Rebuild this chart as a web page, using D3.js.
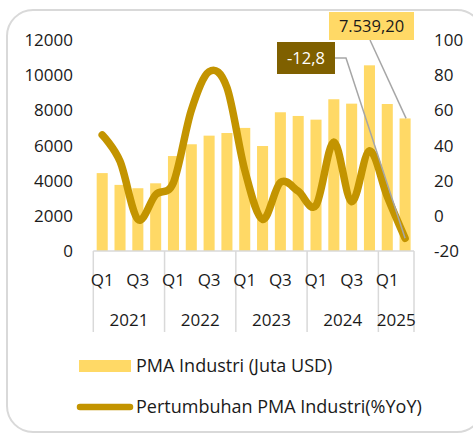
<!DOCTYPE html>
<html>
<head>
<meta charset="utf-8">
<script src="https://cdn.jsdelivr.net/npm/d3@7"></script>
<style>
	body { margin: 0; background: #fff; }
	svg { display: block; font-family: "Open Sans", sans-serif; }
</style>
</head>
<body>
<svg width="473" height="434"></svg>
<script>
(function() {
	"use strict"

	var years = ["2021", "2022", "2023", "2024", "2025"],
		quarters = ["Q1", "Q2", "Q3", "Q4", "Q1", "Q2", "Q3", "Q4", "Q1", "Q2", "Q3", "Q4", "Q1", "Q2", "Q3", "Q4", "Q1", "Q2"],
		quarterYears = [0, 0, 0, 0, 1, 1, 1, 1, 2, 2, 2, 2, 3, 3, 3, 3, 4, 4],
		pmaValues = [4430, 3760, 3570, 3850, 5400, 6070, 6560, 6710, 7000, 5970, 7890, 7680, 7470, 8630, 8380, 10560, 8360, 7539.2],
		growthValues = [46, 31, -2, 12, 19, 60, 82, 73, 26, -2, 19, 14, 6, 42, 8, 37, 11, -12.8],
		leftTicks = [0, 2000, 4000, 6000, 8000, 10000, 12000],
		rightTicks = [-20, 0, 20, 40, 60, 80, 100];

	var barColor = "#ffd966",
		lineColor = "#c39400",
		gridColor = "#d9d9d9",
		textColor = "#1a1a1a",
		x0 = 93.3, x1 = 414, yTop = 40, yBottom = 251;

	var svg = d3.select("svg");

	// frame
	svg.append("rect")
		.attr("x", 7).attr("y", 10)
		.attr("width", 476).attr("height", 422)
		.attr("rx", 26)
		.style("fill", "none")
		.style("stroke", gridColor)
		.style("stroke-width", 2);

	var x = d3.scaleBand().domain(d3.range(quarters.length)).range([x0, x1]).paddingInner(0.38).paddingOuter(0.19),
		yLeft = d3.scaleLinear().domain([0, 12000]).range([yBottom, yTop]),
		yRight = d3.scaleLinear().domain([-20, 100]).range([yBottom, yTop]),
		step = (x1 - x0) / quarters.length;

	// bars
	svg.append("g")
		.selectAll("rect")
		.data(pmaValues)
		.enter()
		.append("rect")
			.attr("x", function(d, i) { return x(i); })
			.attr("y", function(d) { return yLeft(d); })
			.attr("width", x.bandwidth())
			.attr("height", function(d) { return yBottom - yLeft(d); })
			.style("fill", barColor);

	// left axis
	svg.append("g")
		.selectAll("text")
		.data(leftTicks)
		.enter()
		.append("text")
			.attr("x", 73)
			.attr("y", function(d) { return yLeft(d) + 6; })
			.attr("text-anchor", "end")
			.style("font-size", "17px")
			.style("fill", textColor)
			.text(function(d) { return d; });

	// right axis
	svg.append("g")
		.selectAll("text")
		.data(rightTicks)
		.enter()
		.append("text")
			.attr("x", 434)
			.attr("y", function(d) { return yRight(d) + 6; })
			.style("font-size", "17px")
			.style("fill", textColor)
			.text(function(d) { return d; });

	// category axis
	var axisG = svg.append("g");
	axisG.append("line")
		.attr("x1", x0).attr("x2", x1)
		.attr("y1", yBottom).attr("y2", yBottom)
		.style("stroke", gridColor).style("stroke-width", 1.5);

	var bounds = [0];
	quarterYears.forEach(function(d, i) {
		if (i > 0 && d !== quarterYears[i - 1]) bounds.push(i);
	});
	bounds.push(quarters.length);

	axisG.selectAll("line.sep")
		.data(bounds)
		.enter()
		.append("line")
			.attr("class", "sep")
			.attr("x1", function(d) { return x0 + d * step; })
			.attr("x2", function(d) { return x0 + d * step; })
			.attr("y1", yBottom)
			.attr("y2", 332)
			.style("stroke", gridColor).style("stroke-width", 1.5);

	axisG.selectAll("text.q")
		.data(quarters)
		.enter()
		.filter(function(d, i) { return i % 2 === 0; })
		.append("text")
			.attr("class", "q")
			.attr("x", function(d, i) { return x(i * 2) + x.bandwidth() / 2; })
			.attr("y", 286)
			.attr("text-anchor", "middle")
			.style("font-size", "17px")
			.style("fill", textColor)
			.text(function(d) { return d; });

	axisG.selectAll("text.yr")
		.data(years)
		.enter()
		.append("text")
			.attr("class", "yr")
			.attr("x", function(d, i) { return x0 + (bounds[i] + bounds[i + 1]) / 2 * step; })
			.attr("y", 326)
			.attr("text-anchor", "middle")
			.style("font-size", "17px")
			.style("fill", textColor)
			.text(function(d) { return d; });

	// growth line
	var line = d3.line()
		.x(function(d, i) { return x(i) + x.bandwidth() / 2; })
		.y(function(d) { return yRight(d); })
		.curve(d3.curveCardinal.tension(0));

	svg.append("path")
		.datum(growthValues)
		.attr("d", line)
		.style("fill", "none")
		.style("stroke", lineColor)
		.style("stroke-width", 7.5)
		.style("stroke-linecap", "round")
		.style("stroke-linejoin", "round");

	// data labels
	var last = quarters.length - 1,
		lastX = x(last) + x.bandwidth() / 2;

	svg.append("polyline")
		.attr("points", [[370, 40], [lastX + 1, yLeft(pmaValues[last])]].join(" "))
		.style("fill", "none").style("stroke", "#a6a6a6").style("stroke-width", 1.5);
	svg.append("polyline")
		.attr("points", [[335, 58], [346, 58], [lastX, yRight(growthValues[last])]].join(" "))
		.style("fill", "none").style("stroke", "#a6a6a6").style("stroke-width", 1.5);

	svg.append("rect")
		.attr("x", 329).attr("y", 12).attr("width", 85).attr("height", 28)
		.style("fill", barColor);
	svg.append("text")
		.attr("x", 371.5).attr("y", 32)
		.attr("text-anchor", "middle")
		.style("font-size", "16.5px").style("fill", textColor)
		.text(d3.format(",.2f")(pmaValues[last]).replace(/,/g, " ").replace(".", ",").replace(/ /g, "."));

	svg.append("rect")
		.attr("x", 277).attr("y", 42).attr("width", 58).attr("height", 32)
		.style("fill", "#7f6000");
	svg.append("text")
		.attr("x", 306).attr("y", 64)
		.attr("text-anchor", "middle")
		.style("font-size", "16.5px").style("fill", "#fff")
		.text(String(growthValues[last]).replace(".", ","));

	// legend
	svg.append("rect")
		.attr("x", 79).attr("y", 360).attr("width", 52).attr("height", 12)
		.style("fill", barColor);
	svg.append("text")
		.attr("x", 136).attr("y", 372)
		.style("font-size", "18px").style("fill", textColor)
		.text("PMA Industri (Juta USD)");
	svg.append("line")
		.attr("x1", 80).attr("x2", 130).attr("y1", 407).attr("y2", 407)
		.style("stroke", lineColor).style("stroke-width", 6.5).style("stroke-linecap", "round");
	svg.append("text")
		.attr("x", 136).attr("y", 413)
		.style("font-size", "18px").style("fill", textColor)
		.text("Pertumbuhan PMA Industri(%YoY)");
})();
</script>
</body>
</html>
